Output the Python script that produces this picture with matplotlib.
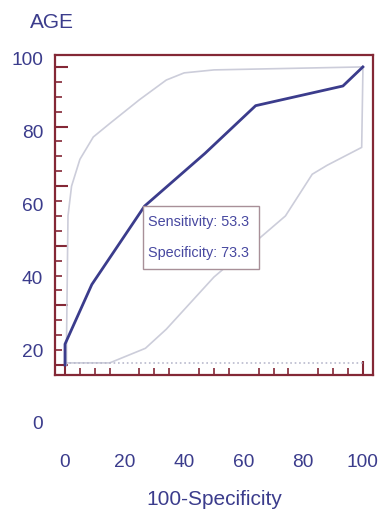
import matplotlib
matplotlib.use("Agg")
import matplotlib.pyplot as plt
import matplotlib.transforms as mtransforms
from matplotlib.patches import Rectangle

plt.rcParams['font.family'] = ['Liberation Sans', 'DejaVu Sans']

# ROC curve (100-Specificity, Sensitivity)
roc_fpr = [0, 0, 9, 26.7, 47, 64, 93.3, 100]
roc_sens = [0, 7, 27, 53.3, 71, 87, 93.6, 100]

# upper confidence bound
upper_fpr = [0.5, 0.5, 1, 2.2, 5, 9.5, 15, 25, 34, 40, 50, 75, 100]
upper_sens = [0, 7, 50, 60, 69, 76.5, 81, 89, 95.6, 98, 99, 99.5, 100]

# lower confidence bound
lower_fpr = [0, 15, 27, 34, 50, 60, 74, 83, 88, 99.6, 100, 100]
lower_sens = [0.7, 0.7, 5.6, 12, 29.5, 38, 50, 64, 67, 73, 98, 100]

# selected criterion
crit_sens = 53.3
crit_spec = 73.3

x_ticks = [0, 20, 40, 60, 80, 100]
y_ticks = [0, 20, 40, 60, 80, 100]

NAVY = '#3b3c8c'
MAROON = '#842836'
CI = '#cccdda'

fig = plt.figure(figsize=(3.82, 5.09), dpi=100)
W, H = 382, 509
ax = fig.add_axes([55 / W, 1 - 375 / H, 318 / W, 320 / H])
ax.set_xlim(-3.36, 103.4)
ax.set_ylim(-3.36, 104.0)

for s in ax.spines.values():
    s.set_color(MAROON)
    s.set_linewidth(1.6)

# curves
ax.plot(upper_fpr, upper_sens, color=CI, lw=1.2, zorder=2)
ax.plot(lower_fpr, lower_sens, color=CI, lw=1.2, zorder=2)
ax.plot([0, 100], [0.7, 0.7], color='#b9bacd', lw=1.2, ls=':', zorder=2)
ax.plot(roc_fpr, roc_sens, color=NAVY, lw=2.0, zorder=3, solid_joinstyle='round')

# criterion box
px, py = 100 - crit_spec, crit_sens
anchor = fig.dpi_scale_trans + mtransforms.ScaledTranslation(px, py, ax.transData)
ax.add_patch(Rectangle((-0.02, -0.63), 1.16, 0.63, transform=anchor,
                       facecolor='white', edgecolor='#a89098', lw=1.0, zorder=4))
ax.annotate(f'Sensitivity: {crit_sens:.1f}', xy=(px, py), xytext=(2.2, -11.5),
            textcoords='offset points', va='center', ha='left',
            fontsize=10.4, color='#4748a0', zorder=5)
ax.annotate(f'Specificity: {crit_spec:.1f}', xy=(px, py), xytext=(2.2, -33.8),
            textcoords='offset points', va='center', ha='left',
            fontsize=10.4, color='#4748a0', zorder=5)

# y ticks (marks)
ax.set_yticks(y_ticks)
ax.set_yticks([v for v in range(0, 101, 5) if v % 20], minor=True)
ax.tick_params(axis='y', which='major', direction='in', length=9, width=1.5,
               color=MAROON, labelleft=False)
ax.tick_params(axis='y', which='minor', direction='in', length=5, width=1.2,
               color=MAROON)

# y tick labels (placed on their own scale as in the original)
ylab_trans = mtransforms.blended_transform_factory(ax.transAxes, ax.transData)
for v in y_ticks:
    ax.annotate(str(v), xy=(0, -20.1 + 1.2215 * v), xycoords=ylab_trans,
                xytext=(-8.5, 0), textcoords='offset points',
                ha='right', va='center', fontsize=13.8, color=NAVY,
                annotation_clip=False)

# x ticks
ax.set_xticks(x_ticks)
ax.set_xticklabels([str(v) for v in x_ticks])
ax.set_xticks([v for v in range(0, 101, 5) if v % 20], minor=True)
ax.tick_params(axis='x', which='major', direction='in', length=0,
               pad=57, labelsize=13.8, labelcolor=NAVY)
ax.tick_params(axis='x', which='minor', direction='in', length=5, width=1.2,
               color=MAROON)
sec = ax.secondary_xaxis('bottom')
sec.set_xticks([0, 100])
sec.tick_params(direction='in', length=10, width=1.5, color=MAROON,
                labelbottom=False)
sec.spines['bottom'].set_visible(False)

ax.set_xlabel('100-Specificity', fontsize=15, color=NAVY)
ax.xaxis.set_label_coords(0.5, -0.36)

fig.text(30 / W, 1 - 23 / H, 'AGE', fontsize=15, color=NAVY,
         ha='left', va='center')

fig.savefig('out.png', dpi=100)
